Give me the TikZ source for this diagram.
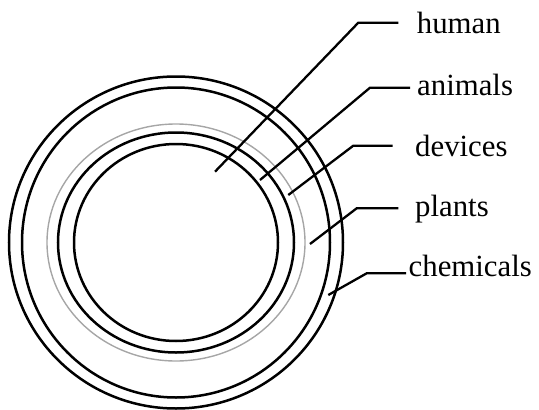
\documentclass[tikz,border=0pt]{standalone}
\usepackage{fontspec}
\setmainfont{Liberation Serif}
\begin{document}
\begin{tikzpicture}[x=1pt,y=-1pt,
  ring/.style={line width=2.5pt,black},
  faintring/.style={line width=1.4pt,black!35},
  leader/.style={line width=2.3pt,black},
  lbl/.style={anchor=base west,inner sep=0pt,font=\fontsize{30.8}{34}\selectfont}]
\useasboundingbox (0,0) rectangle (539,410);
\coordinate (c) at (176,242.5);
% rings
\draw[ring] (c) ellipse [x radius=167pt, y radius=166pt];
\draw[ring] (c) ellipse [x radius=154pt, y radius=155pt];
\draw[faintring] (c) ellipse [x radius=129pt, y radius=118.5pt];
\draw[ring] (c) ellipse [x radius=118pt, y radius=110pt];
\draw[ring] (c) ellipse [x radius=102pt, y radius=98.5pt];
% labels
\node[lbl] (human) at (416.7,33.3) {human};
\node[lbl] (animals) at (417,95) {animals};
\node[lbl] (devices) at (415,156) {devices};
\node[lbl] (plants) at (415,216.7) {plants};
\node[lbl] (chemicals) at (408.5,276.7) {chemicals};
% leader points
\coordinate (h0) at (215,171.7);
\coordinate (h1) at (358.3,22.7);
\coordinate (h2) at (398.3,22.7);
\coordinate (a0) at (260,180);
\coordinate (a1) at (370,87.7);
\coordinate (a2) at (410,87.7);
\coordinate (d0) at (288.3,195);
\coordinate (d1) at (353.3,145.7);
\coordinate (d2) at (392.7,145.7);
\coordinate (p0) at (310,244);
\coordinate (p1) at (356.7,208.3);
\coordinate (p2) at (398.3,208.3);
\coordinate (k0) at (328.3,295);
\coordinate (k1) at (366.7,273.3);
\coordinate (k2) at (406,273.3);
\draw[leader] (h0) -- (h1) -- (h2);
\draw[leader] (a0) -- (a1) -- (a2);
\draw[leader] (d0) -- (d1) -- (d2);
\draw[leader] (p0) -- (p1) -- (p2);
\draw[leader] (k0) -- (k1) -- (k2);
\end{tikzpicture}
\end{document}
